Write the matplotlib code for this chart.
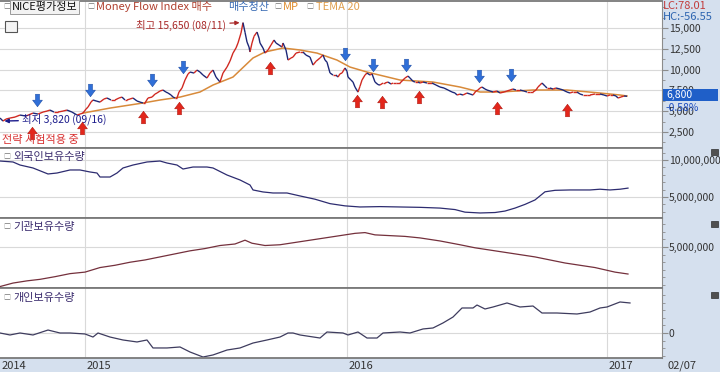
import matplotlib
matplotlib.use('Agg')
import matplotlib.pyplot as plt
import matplotlib.ticker as mticker
import matplotlib.transforms as mtransforms
from matplotlib.collections import LineCollection
from matplotlib.path import Path
from matplotlib.patches import Rectangle

plt.rcParams['font.family'] = ['Noto Sans CJK KR', 'DejaVu Sans']

# x = trading day index from the left edge of the window
price_pts = [(0,4180),(3,3820),(6,4060),(10,4180),(15,4300),(20,4540),(26,4420),(33,4780),(38,4660),
    (43,4900),(47,5020),(50,5140),(54,4900),(58,4900),(63,5020),(67,5140),(72,4900),(77,4540),(80,4660),
    (83,4780),(86,5260),(88,5500),(91,6100),(93,6350),(97,6200),(100,6100),(104,6470),(107,6590),(111,6350),
    (115,6350),(119,6590),(122,6700),(125,6350),(127,6350),(130,6470),(133,6590),(137,6230),(140,6100),
    (143,5990),(145,5990),(148,6590),(152,6700),(155,7060),(157,7190),(160,7430),(163,7550),(166,7300),
    (168,7190),(171,6950),(173,6710),(175,6590),(177,6590),(179,7310),(182,7790),(185,8750),(188,9470),
    (190,9710),(194,9590),(197,9950),(200,9710),(203,9350),(207,8990),(210,9590),(213,9950),(216,9110),
    (220,8510),(223,9590),(227,10310),(230,11030),(233,11990),(236,12600),(238,13200),(241,14400),
    (243,15650),(245,14500),(247,13320),(249,12720),(250,12120),(252,13200),(254,14000),(257,14520),
    (259,13800),(260,13200),(263,12600),(265,11990),(268,12360),(271,12960),(274,13560),(276,13200),
    (279,12960),(282,12720),(283,13200),(286,12360),(288,11150),(291,11400),(293,11510),(296,11990),
    (300,12120),(303,12120),(306,11750),(310,11510),(313,10550),(316,11000),(320,11400),(323,11760),
    (325,11150),(327,10900),(330,9600),(333,9350),(336,9350),(338,9110),(340,9500),(342,9590),(345,10200),
    (347,9800),(348,9110),(351,8750),(353,8510),(355,7900),(358,7300),(360,8000),(362,8750),(365,9350),
    (367,9590),(370,9350),(372,9500),(375,8510),(378,8200),(380,8150),(383,8390),(385,8390),(388,8510),
    (391,8270),(393,8390),(396,8390),(400,8390),(403,8750),(405,8990),(408,9230),(410,8990),(413,8600),
    (415,8510),(418,8510),(420,8390),(423,8510),(427,8390),(432,8390),(436,8150),(440,7910),(444,7790),
    (448,7550),(452,7310),(455,7190),(457,6950),(460,7060),(463,6950),(467,7190),(470,7070),(473,6950),
    (476,7430),(478,7550),(480,7790),(482,7910),(485,7670),(487,7550),(490,7430),(493,7310),(497,7430),
    (500,7190),(504,7310),(507,7430),(510,7550),(513,7670),(516,7550),(520,7550),(524,7430),(527,7310),
    (530,7310),(533,7310),(536,7550),(538,7910),(540,8150),(542,8390),(545,8030),(547,7790),(550,7790),
    (553,7670),(556,7790),(560,7670),(563,7550),(567,7310),(570,7190),(573,7310),(577,7310),(580,7070),
    (583,6950),(587,6950),(590,6950),(595,7070),(600,7070),(604,6950),(607,6830),(610,6950),(613,6950),
    (616,6830),(618,6590),(621,6710),(624,6830),(627,6800)]
price_day = [p[0] for p in price_pts]
price_close = [p[1] for p in price_pts]

tema_day = [83,110,143,160,180,200,213,233,253,265,283,300,317,337,350,367,400,433,460,480,500,533,567,600,620,627]
tema_val = [4780,5380,5990,6350,6700,7310,8150,9110,11400,12120,12600,12360,11990,11150,10310,9710,8750,
            8510,7910,7310,7310,7550,7550,7190,6950,6830]

sell_day = [37,90,152,183,345,373,406,479,511]
sell_val = [6350,7550,8750,10310,11880,10550,10550,9230,9350]
buy_day = [32,82,143,179,270,357,382,419,497,567]
buy_val = [2380,2980,4300,5380,10190,6230,6110,6710,5380,5140]

# holdings, millions of shares
foreign_day = [0,13,20,33,48,57,70,80,90,97,100,110,117,123,133,147,160,167,177,183,193,207,213,227,240,
               250,253,263,273,287,300,315,330,345,360,380,400,420,440,455,465,480,495,505,515,525,535,
               545,555,570,590,600,610,620,628]
foreign_val = [9.86,9.73,9.32,8.92,8.11,8.24,8.65,8.65,8.38,8.24,7.70,7.70,8.24,8.92,9.32,9.73,9.86,9.59,
               9.32,8.78,9.05,9.05,8.92,7.97,7.30,6.62,5.95,5.68,5.54,5.54,5.14,4.70,4.10,3.80,3.65,3.70,
               3.65,3.60,3.50,3.30,2.95,2.84,2.90,3.10,3.50,4.00,4.60,5.70,5.90,5.95,5.95,6.05,5.95,6.05,6.20]
inst_day = [0,13,27,40,55,70,85,100,115,130,145,160,175,190,205,220,235,245,252,265,280,295,310,325,340,
            355,365,375,390,405,420,440,460,475,490,505,520,535,550,565,580,595,605,615,628]
inst_val = [-0.2,0.26,0.55,0.75,1.1,1.5,1.7,2.3,2.6,3.0,3.3,3.7,4.1,4.5,4.8,5.2,5.4,5.9,5.5,5.2,5.3,5.6,
            5.9,6.2,6.5,6.8,6.9,6.6,6.5,6.4,6.2,5.8,5.3,4.9,4.6,4.3,4.0,3.7,3.3,2.9,2.6,2.3,2.0,1.7,1.45]
indiv_day = [0,10,20,33,48,60,70,85,93,98,110,123,137,147,153,167,180,190,203,213,227,240,253,267,280,288,
             293,300,320,327,343,348,358,367,377,383,400,410,423,433,443,453,462,473,477,485,493,507,520,
             533,542,557,577,590,600,607,620,630]
indiv_val = [0.0,-0.26,0.0,-0.26,0.39,0.0,0.0,-0.13,-0.53,0.0,-0.53,-0.92,-1.18,-0.92,-1.97,-1.97,-1.84,
             -2.5,-3.16,-2.89,-2.24,-1.97,-1.32,-0.92,-0.53,0.0,0.0,-0.26,-0.66,0.13,0.0,-0.26,0.13,-0.66,
             -0.66,0.0,0.13,0.0,0.53,0.66,1.32,2.1,3.29,3.29,3.68,3.16,3.42,3.95,3.42,3.55,2.63,2.63,2.5,
             2.76,3.29,3.42,4.08,3.95]

year_day = [0, 85, 347, 607]
year_label = ['2014', '2015', '2016', '2017']

W, H = 720, 372
fig = plt.figure(figsize=(7.2, 3.72), dpi=100)
BLUE_BG = '#d5e0ee'
fig.patches.append(Rectangle((662 / W, 0), 58 / W, 1, transform=fig.transFigure, color=BLUE_BG, zorder=-5))
fig.patches.append(Rectangle((0, 0), 1, 14 / H, transform=fig.transFigure, color=BLUE_BG, zorder=-5))


def rect(x0, y0, x1, y1):
    return [x0 / W, 1 - y1 / H, (x1 - x0) / W, (y1 - y0) / H]


def ftext(x, y, s, **kw):
    kw.setdefault('va', 'center')
    kw.setdefault('fontsize', 8)
    return fig.text(x / W, 1 - y / H, s, **kw)


def style(ax, ylim, major, minor):
    ax.set_xlim(0, 662)
    ax.set_ylim(*ylim)
    ax.set_facecolor('white')
    ax.spines['left'].set_visible(False)
    ax.spines['right'].set_color('#8c8c8c')
    for s in ('top', 'bottom'):
        ax.spines[s].set_color('#7a7a7a')
        ax.spines[s].set_linewidth(1.3)
    ax.set_xticks(year_day[1:])
    ax.tick_params(axis='x', length=0, labelbottom=False)
    ax.yaxis.tick_right()
    ax.set_yticks(major)
    ax.yaxis.set_minor_locator(mticker.MultipleLocator(minor))
    ax.yaxis.set_major_formatter(mticker.StrMethodFormatter('{x:,.0f}'))
    ax.tick_params(axis='y', which='major', length=4, pad=1, labelsize=7.5, colors='#8c8c8c',
                   labelcolor='#333333')
    ax.tick_params(axis='y', which='minor', length=2, colors='#8c8c8c')
    ax.grid(True, which='major', color='#d9d9d9', lw=0.8)
    ax.set_axisbelow(True)


ax1 = fig.add_axes(rect(0, 1, 662, 148))
ax2 = fig.add_axes(rect(0, 148, 662, 218))
ax3 = fig.add_axes(rect(0, 218, 662, 288))
ax4 = fig.add_axes(rect(0, 288, 662, 358))

style(ax1, (580, 18250), [2500, 5000, 7500, 10000, 12500, 15000], 1250)
style(ax2, (2.16e6, 11.62e6), [5e6, 10e6], 1e6)
style(ax3, (-0.39e6, 8.82e6), [5e6], 1e6)
style(ax4, (-3.29e6, 5.92e6), [0], 1e6)

# price line: red on up moves, navy on down moves
segs = [[(price_day[i], price_close[i]), (price_day[i + 1], price_close[i + 1])] for i in range(len(price_day) - 1)]
cols = ['#d02a22' if price_close[i + 1] >= price_close[i] else '#1d2878' for i in range(len(price_day) - 1)]
ax1.add_collection(LineCollection(segs, colors=cols, linewidths=1.0, zorder=3))
ax1.plot(tema_day, tema_val, color='#d88a3a', lw=1.1, zorder=2)

down_arrow = Path([(-0.32, 1), (0.32, 1), (0.32, 0.05), (0.78, 0.05), (0, -1), (-0.78, 0.05), (-0.32, 0.05), (-0.32, 1)],
                  [Path.MOVETO] + [Path.LINETO] * 6 + [Path.CLOSEPOLY])
up_arrow = Path([(x, -y) for x, y in down_arrow.vertices], down_arrow.codes)
ax1.plot(sell_day, sell_val, ls='none', marker=down_arrow, ms=9, color='#2f6fd8', mec='#1f4fa8', mew=0.4, zorder=4)
ax1.plot(buy_day, buy_val, ls='none', marker=up_arrow, ms=9, color='#e3261b', mec='#b01810', mew=0.4, zorder=4)

ax1.annotate('최고 15,650 (08/11)', xy=(241, 15650), xytext=(-11, -2), textcoords='offset points',
             ha='right', va='center', fontsize=7.5, color='#a82828',
             arrowprops=dict(arrowstyle='-|>', color='#a82828', lw=0.9, mutation_scale=6, shrinkA=1, shrinkB=1))
ax1.annotate('최저 3,820 (09/16)', xy=(3, 3820), xytext=(14, 1), textcoords='offset points',
             ha='left', va='center', fontsize=7.5, color='#1c1c8c',
             arrowprops=dict(arrowstyle='-|>', color='#1c1c8c', lw=1.0, mutation_scale=6, shrinkA=1, shrinkB=1))
ftext(2, 140, '전략 시험적용 중', color='#d83030', fontsize=8)

ax2.plot(foreign_day, [v * 1e6 for v in foreign_val], color='#2d2c70', lw=0.9)
ax3.plot(inst_day, [v * 1e6 for v in inst_val], color='#74303c', lw=0.9)
ax4.plot(indiv_day, [v * 1e6 for v in indiv_val], color='#3e3c5e', lw=0.9)

# legend row
ftext(3, 7, '□', fontsize=5, color='#777777')
ftext(12, 7, 'NICE평가정보', color='#111111',
      bbox=dict(boxstyle='square,pad=0.15', fc='#f2f2f2', ec='#9a9a9a', lw=0.7))
ftext(87, 7, '□', fontsize=5, color='#777777')
ftext(96, 7, 'Money Flow Index 매수', color='#b0402f')
ftext(228, 7, '매수청산', color='#3a6cb5')
ftext(274, 7, '□', fontsize=5, color='#777777')
ftext(283, 7, 'MP', color='#e08c2c')
ftext(306, 7, '□', fontsize=5, color='#777777')
ftext(316, 7, 'TEMA 20', color='#e0a050')
fig.patches.append(Rectangle((5 / W, 1 - 32 / H), 12 / W, 11 / H, transform=fig.transFigure,
                             fc='#f4f4f4', ec='#555555', lw=0.8, zorder=5))

# panel titles
for y, s in [(157, '외국인보유수량'), (227, '기관보유수량'), (298, '개인보유수량')]:
    ftext(3, y, '□', fontsize=5, color='#777777')
    ftext(13, y, s, color='#3b2c6e')
for y in (152, 224, 295):
    fig.patches.append(Rectangle((711 / W, 1 - (y + 3) / H), 7 / W, 6 / H, transform=fig.transFigure,
                                 fc='#505050', ec='#303030', lw=0.5, zorder=5))

# right strip texts
ftext(663, 6, 'LC:78.01', color='#c23c3c', zorder=6)
ftext(663, 17, 'HC:-56.55', color='#2c64b0', zorder=6)
fig.patches.append(Rectangle((663 / W, 1 - 101 / H), 55 / W, 12 / H, transform=fig.transFigure,
                             fc='#1f5fc8', ec='none', zorder=5))
ftext(666, 95, f'{price_close[-1]:,}', color='white', fontsize=7.5, zorder=6)
ftext(666, 108, '-0.58%', color='#2050c0', fontsize=7.5, zorder=6)

# date labels
trans = mtransforms.blended_transform_factory(ax4.transData, ax4.transAxes)
for d, lab in zip(year_day, year_label):
    ax4.text(d + 2, -0.11, lab, transform=trans, ha='left', va='center', fontsize=8, color='#333333')
ftext(668, 366, '02/07', color='#333333')

fig.savefig('out.png', dpi=100)
